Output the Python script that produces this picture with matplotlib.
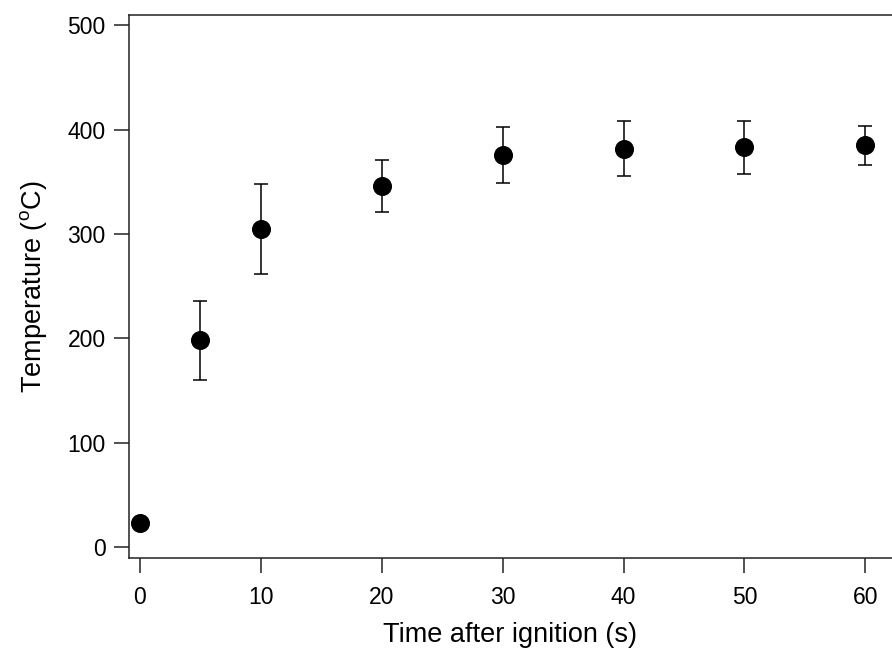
import matplotlib
matplotlib.use("Agg")
import matplotlib.pyplot as plt

# --- dados ---
tempo = [0, 5, 10, 20, 30, 40, 50, 60]
temperatura = [23, 198, 305, 346, 376, 382, 383, 385]
erro = [0, 38, 43, 25, 27, 26, 25, 19]

plt.rcParams['font.family'] = ['Liberation Sans', 'DejaVu Sans']
plt.rcParams['mathtext.fontset'] = 'custom'
plt.rcParams['mathtext.rm'] = 'Liberation Sans'
plt.rcParams['mathtext.it'] = 'Liberation Sans'

fig = plt.figure(figsize=(8.92, 6.48), dpi=100)
ax = fig.add_axes([0.1446, 0.1389, 0.8554, 0.838])

ax.errorbar(tempo, temperatura, yerr=erro, fmt='o', color='black',
            markersize=12.7, elinewidth=1.1, capsize=4.7, capthick=1.1)

ax.set_xlim(-0.9, 62.2)
ax.set_ylim(-10.5, 510)
ax.set_xticks([0, 10, 20, 30, 40, 50, 60])
ax.set_yticks([0, 100, 200, 300, 400, 500])

for lado in ['left', 'bottom', 'top']:
    ax.spines[lado].set_linewidth(1.1)
    ax.spines[lado].set_color('#222222')
ax.spines['right'].set_visible(False)

ax.tick_params(axis='both', direction='out', length=10.8, width=1.1,
               labelsize=16.5, color='#222222')
ax.tick_params(axis='x', pad=9.5)
ax.tick_params(axis='y', pad=6)

ax.set_xlabel("Time after ignition (s)", fontsize=19.5, labelpad=9)
ax.set_ylabel("Temperature ($^{\\mathregular{o}}$C)", fontsize=19.5, labelpad=13)

fig.savefig("out.png", dpi=100)
